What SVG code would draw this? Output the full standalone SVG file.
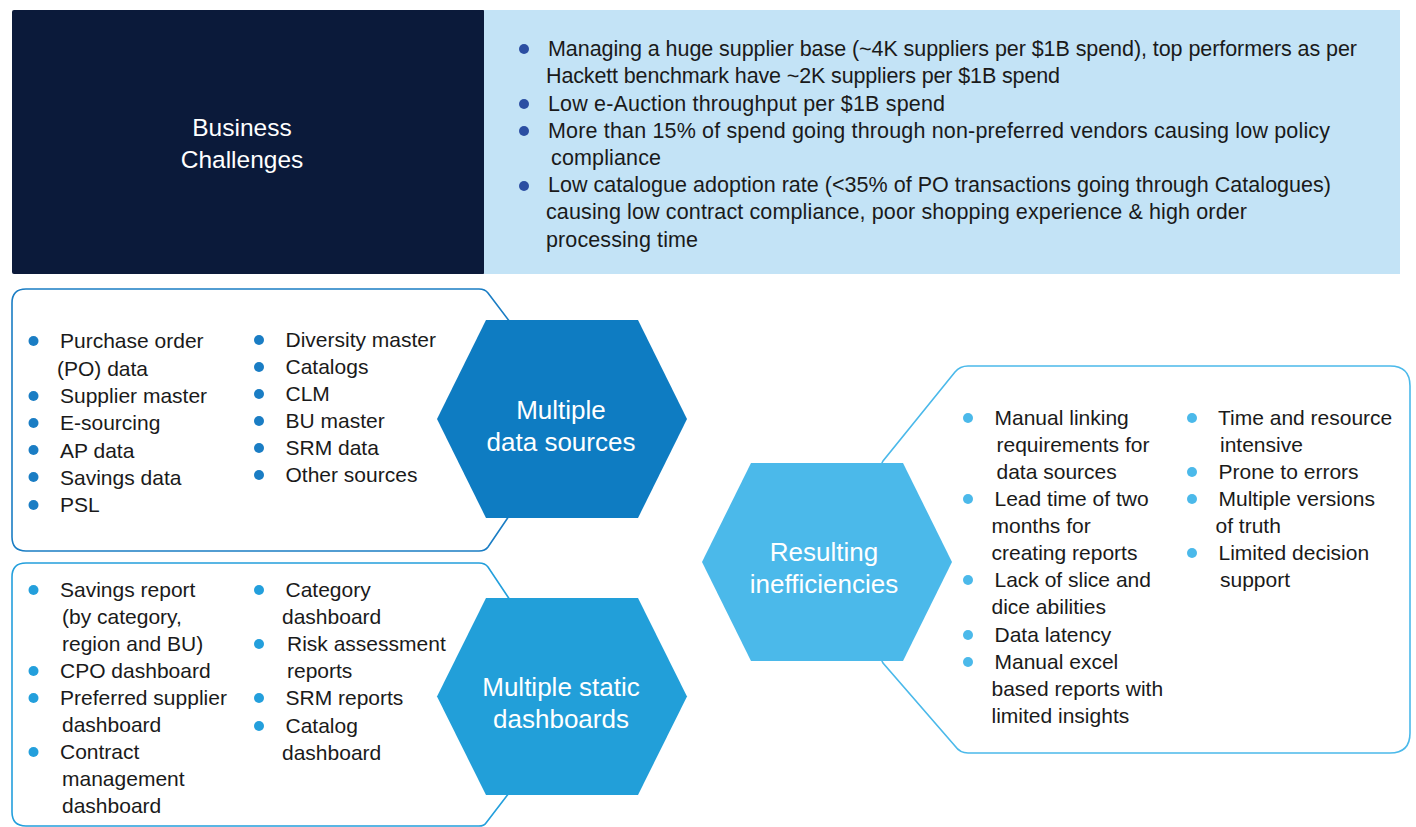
<svg xmlns="http://www.w3.org/2000/svg" width="1416" height="827" viewBox="0 0 1416 827">
<style>
  text { font-family: "Liberation Sans", Arial, sans-serif; }
  .top { font-size: 21.5px; fill: #1a1a1a; }
  .li { font-size: 21px; fill: #1a1a1a; }
  .hex { font-size: 26px; fill: #ffffff; text-anchor: middle; }
  .title { font-size: 24.5px; fill: #ffffff; text-anchor: middle; }
  .b0 { fill: #2b4ea2; }
  .b1 { fill: #1a7dc4; }
  .b2 { fill: #239fdc; }
  .b3 { fill: #4bb9ea; }
  .outline { fill: none; stroke-width: 1.6; }
</style>
<rect width="1416" height="827" fill="#ffffff"/>

<g id="challenges">
  <rect x="12" y="10" width="473" height="264" rx="2" fill="#0b1a3a"/>
  <rect x="484" y="10" width="916" height="264" fill="#c3e3f6"/>
  <text class="title" x="242" y="136">Business</text>
  <text class="title" x="242" y="168">Challenges</text>
  <circle class="b0" cx="524" cy="49" r="5"/>
  <circle class="b0" cx="524" cy="104" r="5"/>
  <circle class="b0" cx="524" cy="131" r="5"/>
  <circle class="b0" cx="524" cy="186" r="5"/>
  <text class="top" x="548" y="56" textLength="809">Managing a huge supplier base (~4K suppliers per $1B spend), top performers as per</text>
  <text class="top" x="546" y="83" textLength="514">Hackett benchmark have ~2K suppliers per $1B spend</text>
  <text class="top" x="548" y="111" textLength="397">Low e-Auction throughput per $1B spend</text>
  <text class="top" x="548" y="138" textLength="782">More than 15% of spend going through non-preferred vendors causing low policy</text>
  <text class="top" x="551" y="165" textLength="110">compliance</text>
  <text class="top" x="548" y="192" textLength="783">Low catalogue adoption rate (&lt;35% of PO transactions going through Catalogues)</text>
  <text class="top" x="546" y="219" textLength="701">causing low contract compliance, poor shopping experience &amp; high order</text>
  <text class="top" x="546" y="247" textLength="152">processing time</text>
</g>

<g id="connectors">
  <path class="outline" stroke="#1a7dc4" d="M510,322 L488,293 Q485,289 479,289 H26 Q12,289 12,303 V537 Q12,551 26,551 H479 Q485,551 488,547 L509,516"/>
  <path class="outline" stroke="#239fdc" d="M510,600 L488,567 Q485,563 479,563 H26 Q12,563 12,577 V812 Q12,826 26,826 H479 Q484,826 486,823 L509,793"/>
  <path class="outline" stroke="#4bb9ea" d="M881,465 L883,461 L955,372 Q960,366 968,366 H1390 Q1410,366 1410,386 V733 Q1410,753 1390,753 H968 Q960,753 955,746 L883,663 L881,659"/>
</g>

<g id="data-sources">
  <polygon points="437,419 486,320 638,320 687,419 638,518 486,518" fill="#0e7cc2"/>
  <text class="hex" x="561" y="419">Multiple</text>
  <text class="hex" x="561" y="451">data sources</text>
  <circle class="b1" cx="33.5" cy="341" r="5"/>
  <circle class="b1" cx="33.5" cy="396" r="5"/>
  <circle class="b1" cx="33.5" cy="423" r="5"/>
  <circle class="b1" cx="33.5" cy="450" r="5"/>
  <circle class="b1" cx="33.5" cy="477" r="5"/>
  <circle class="b1" cx="33.5" cy="505" r="5"/>
  <text class="li" x="60" y="348">Purchase order</text>
  <text class="li" x="57" y="375.5">(PO) data</text>
  <text class="li" x="60" y="403">Supplier master</text>
  <text class="li" x="60" y="430">E-sourcing</text>
  <text class="li" x="60" y="457.5">AP data</text>
  <text class="li" x="60" y="484.5">Savings data</text>
  <text class="li" x="60" y="512">PSL</text>
  <circle class="b1" cx="259" cy="340" r="5"/>
  <circle class="b1" cx="259" cy="367" r="5"/>
  <circle class="b1" cx="259" cy="394" r="5"/>
  <circle class="b1" cx="259" cy="421" r="5"/>
  <circle class="b1" cx="259" cy="448" r="5"/>
  <circle class="b1" cx="259" cy="475" r="5"/>
  <text class="li" x="285.5" y="347">Diversity master</text>
  <text class="li" x="285.5" y="374">Catalogs</text>
  <text class="li" x="285.5" y="401">CLM</text>
  <text class="li" x="285.5" y="428">BU master</text>
  <text class="li" x="285.5" y="455">SRM data</text>
  <text class="li" x="285.5" y="482">Other sources</text>
</g>

<g id="static-dashboards">
  <polygon points="437,696.5 486,598 638,598 687,696.5 638,795 486,795" fill="#229fd9"/>
  <text class="hex" x="561" y="696">Multiple static</text>
  <text class="hex" x="561" y="728">dashboards</text>
  <circle class="b2" cx="33.5" cy="590" r="5"/>
  <circle class="b2" cx="33.5" cy="671" r="5"/>
  <circle class="b2" cx="33.5" cy="698" r="5"/>
  <circle class="b2" cx="33.5" cy="752" r="5"/>
  <text class="li" x="60" y="597">Savings report</text>
  <text class="li" x="62" y="624">(by category,</text>
  <text class="li" x="62" y="651">region and BU)</text>
  <text class="li" x="60" y="678">CPO dashboard</text>
  <text class="li" x="60" y="705">Preferred supplier</text>
  <text class="li" x="62" y="732">dashboard</text>
  <text class="li" x="60" y="759">Contract</text>
  <text class="li" x="62" y="786">management</text>
  <text class="li" x="62" y="813">dashboard</text>
  <circle class="b2" cx="259" cy="590" r="5"/>
  <circle class="b2" cx="259" cy="644" r="5"/>
  <circle class="b2" cx="259" cy="698" r="5"/>
  <circle class="b2" cx="259" cy="726" r="5"/>
  <text class="li" x="285.5" y="597">Category</text>
  <text class="li" x="282" y="623.5">dashboard</text>
  <text class="li" x="287" y="651">Risk assessment</text>
  <text class="li" x="287" y="678">reports</text>
  <text class="li" x="285.5" y="705">SRM reports</text>
  <text class="li" x="285.5" y="732.5">Catalog</text>
  <text class="li" x="282" y="759.5">dashboard</text>
</g>

<g id="inefficiencies">
  <polygon points="702,562 751,463 903,463 952,562 903,661 751,661" fill="#4bb9ea"/>
  <text class="hex" x="824" y="561">Resulting</text>
  <text class="hex" x="824" y="593">inefficiencies</text>
  <circle class="b3" cx="968" cy="418" r="5"/>
  <circle class="b3" cx="968" cy="499" r="5"/>
  <circle class="b3" cx="968" cy="580" r="5"/>
  <circle class="b3" cx="968" cy="635" r="5"/>
  <circle class="b3" cx="968" cy="662" r="5"/>
  <text class="li" x="994.5" y="425">Manual linking</text>
  <text class="li" x="996.5" y="452">requirements for</text>
  <text class="li" x="996.5" y="479">data sources</text>
  <text class="li" x="994.5" y="506">Lead time of two</text>
  <text class="li" x="991.5" y="533">months for</text>
  <text class="li" x="991.5" y="560">creating reports</text>
  <text class="li" x="994.5" y="587">Lack of slice and</text>
  <text class="li" x="991.5" y="614">dice abilities</text>
  <text class="li" x="994.5" y="641.5">Data latency</text>
  <text class="li" x="994.5" y="668.5">Manual excel</text>
  <text class="li" x="991.5" y="695.5">based reports with</text>
  <text class="li" x="991.5" y="722.5">limited insights</text>
  <circle class="b3" cx="1192" cy="418" r="5"/>
  <circle class="b3" cx="1192" cy="472" r="5"/>
  <circle class="b3" cx="1192" cy="499" r="5"/>
  <circle class="b3" cx="1192" cy="553" r="5"/>
  <text class="li" x="1218" y="425">Time and resource</text>
  <text class="li" x="1220" y="452">intensive</text>
  <text class="li" x="1218.5" y="479">Prone to errors</text>
  <text class="li" x="1218.5" y="506">Multiple versions</text>
  <text class="li" x="1215.5" y="533">of truth</text>
  <text class="li" x="1218.5" y="560">Limited decision</text>
  <text class="li" x="1220" y="587">support</text>
</g>
</svg>
